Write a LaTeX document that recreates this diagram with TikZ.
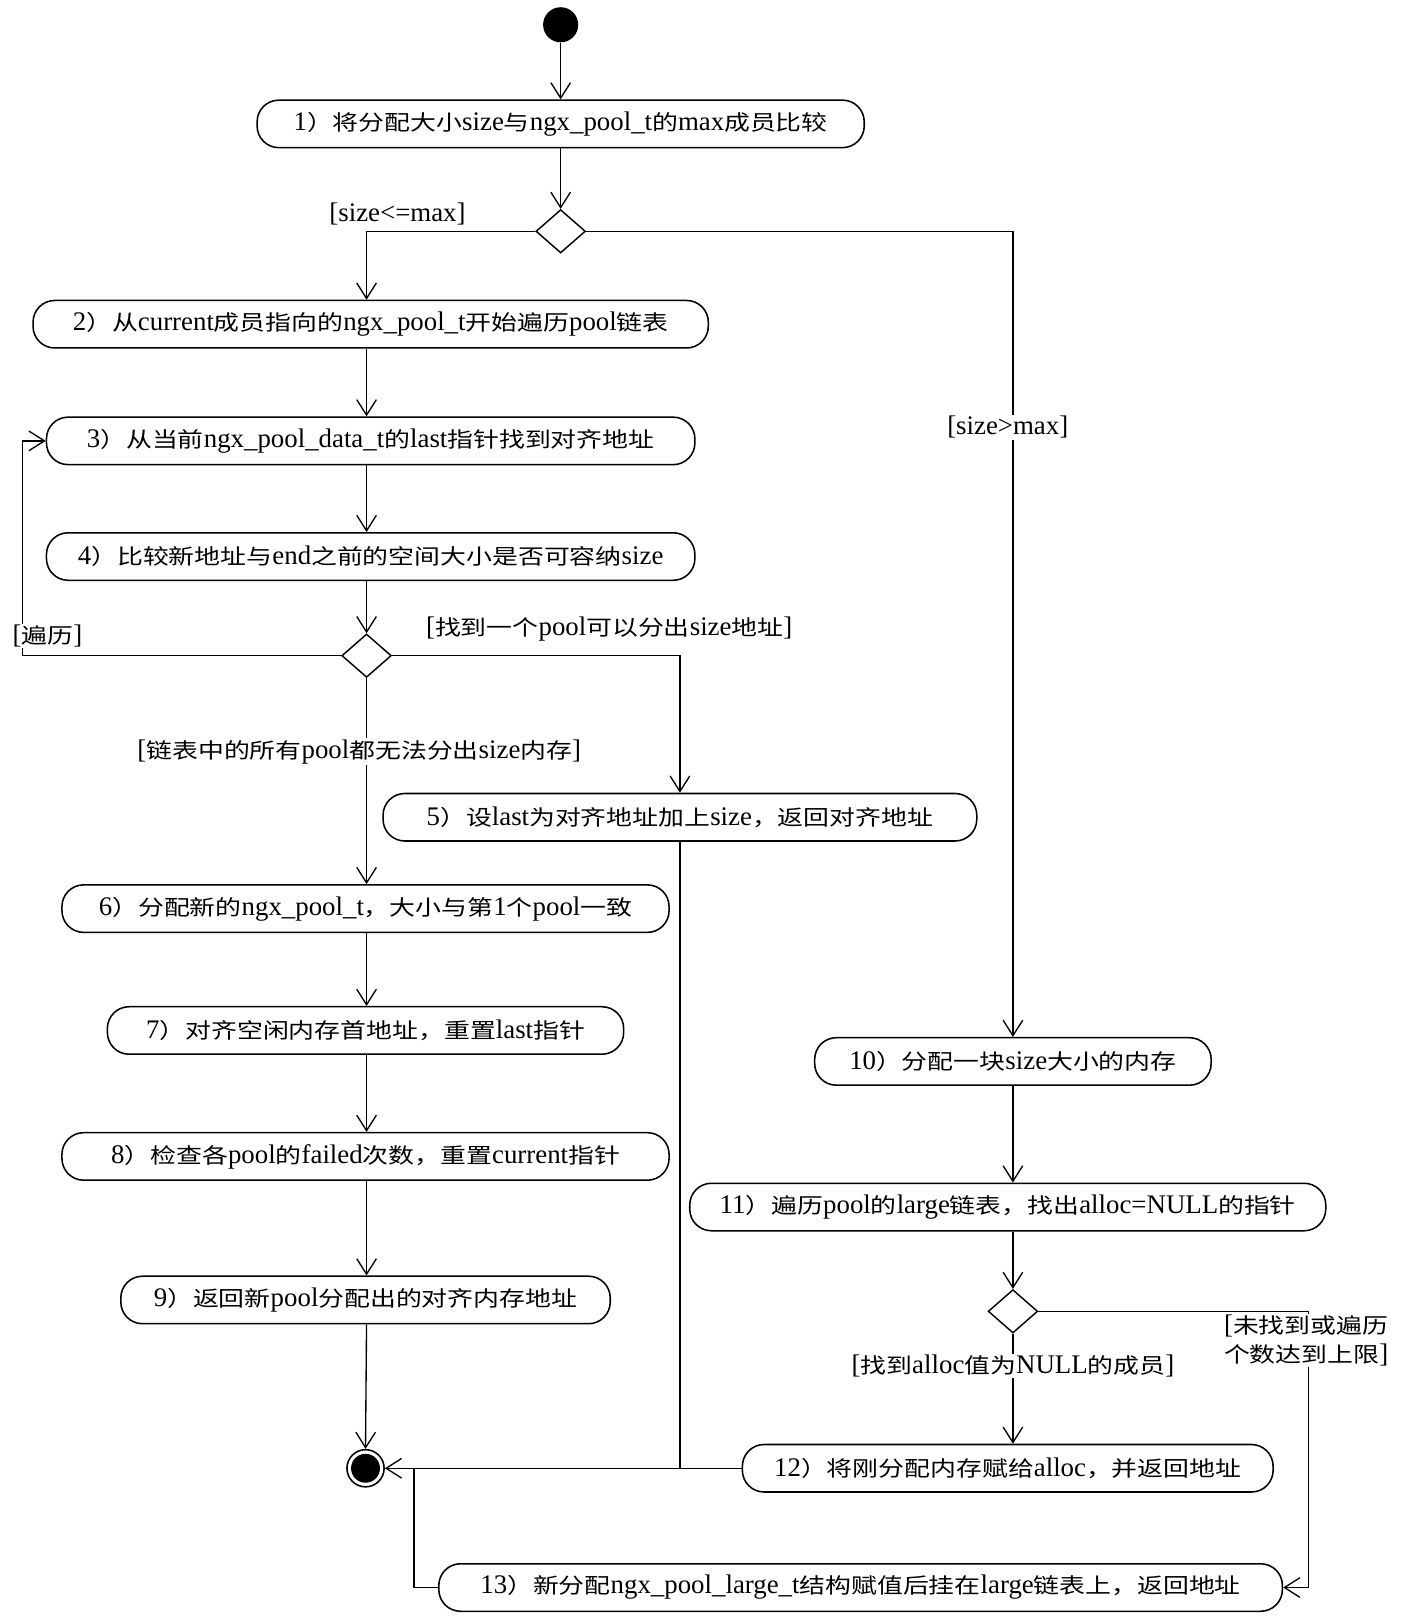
\documentclass[tikz,border=0pt]{standalone}
\usepackage{fontspec}
\setmainfont{Liberation Serif}
\newfontfamily\cjkf[Scale=0.79,FakeStretch=1.22]{Noto Sans CJK SC}
\usetikzlibrary{arrows.meta,shapes.geometric}
\XeTeXinterchartokenstate=1
\newXeTeXintercharclass\mycjkclass
\newcount\mycc
\mycc="4E00
\loop \XeTeXcharclass\mycc=\mycjkclass \advance\mycc by 1 \ifnum\mycc<"A000 \repeat
\mycc="FF00
\loop \XeTeXcharclass\mycc=\mycjkclass \advance\mycc by 1 \ifnum\mycc<"FF60 \repeat
\mycc="3000
\loop \XeTeXcharclass\mycc=\mycjkclass \advance\mycc by 1 \ifnum\mycc<"3040 \repeat
\XeTeXinterchartoks 0 \mycjkclass = {\cjkf}
\XeTeXinterchartoks \mycjkclass 0 = {\rmfamily}
\tikzset{
  act/.style={draw, line width=1.5pt, rounded corners=21pt, minimum height=46pt,
    inner sep=0pt, font=\fontsize{26}{30}\selectfont},
  dec/.style={draw, diamond, line width=1.4pt, minimum width=48pt, minimum height=42pt, inner sep=0pt},
  lbl/.style={font=\fontsize{26}{28}\selectfont, inner sep=1pt},
  wlbl/.style={lbl, fill=white},
  conn/.style={line width=1.3pt},
  arr/.style={conn, -{Straight Barb[length=15pt,width=19pt,line width=1.3pt]}},
}
\begin{document}
\begin{tikzpicture}[x=1pt,y=-1pt]
\useasboundingbox (0,0) rectangle (1370,1568);
% start / end
\node[circle, fill=black, minimum size=34pt, inner sep=0pt] (start) at (543,24) {};
\node[circle, draw, line width=1.5pt, minimum size=36pt, inner sep=0pt] (end) at (354,1422) {};
\fill (end.center) circle (14pt);
% activities
\node[act, minimum width=588pt] (n1) at (543,120) {1）将分配大小size与ngx\_pool\_t的max成员比较};
\node[dec] (d1) at (543,224) {};
\node[act, minimum width=654pt] (n2) at (359,314) {2）从current成员指向的ngx\_pool\_t开始遍历pool链表};
\node[act, minimum width=628pt] (n3) at (359,427) {3）从当前ngx\_pool\_data\_t的last指针找到对齐地址};
\node[act, minimum width=628pt] (n4) at (359,539) {4）比较新地址与end之前的空间大小是否可容纳size};
\node[dec] (d2) at (355,635) {};
\node[act, minimum width=575pt] (n5) at (658.5,791.5) {5）设last为对齐地址加上size，返回对齐地址};
\node[act, minimum width=588pt] (n6) at (354,880) {6）分配新的ngx\_pool\_t，大小与第1个pool一致};
\node[act, minimum width=500pt] (n7) at (354,998) {7）对齐空闲内存首地址，重置last指针};
\node[act, minimum width=588pt] (n8) at (354,1120) {8）检查各pool的failed次数，重置current指针};
\node[act, minimum width=474pt] (n9) at (354,1259) {9）返回新pool分配出的对齐内存地址};
\node[act, minimum width=384pt] (n10) at (981,1028) {10）分配一块size大小的内存};
\node[act, minimum width=616pt] (n11) at (976,1169) {11）遍历pool的large链表，找出alloc=NULL的指针};
\node[dec] (d3) at (981,1270) {};
\node[act, minimum width=514pt] (n12) at (976,1422) {12）将刚分配内存赋给alloc，并返回地址};
\node[act, minimum width=817pt] (n13) at (833.5,1537.5) {13）新分配ngx\_pool\_large\_t结构赋值后挂在large链表上，返回地址};
% helper coordinates
\coordinate (loopL) at (22,635);
\coordinate (rc) at (1267,1270);
\coordinate (j13) at (401,1422);
% connectors
\draw[arr] (start) -- (n1);
\draw[arr] (n1) -- (d1);
\draw[arr] (d1.west) -| (n2.north -| d2);
\draw[arr] (d1.east) -| (n10.north);
\draw[arr] (n2.south -| d2) -- (n3.north -| d2);
\draw[arr] (n3.south -| d2) -- (n4.north -| d2);
\draw[arr] (n4.south -| d2) -- (d2.north);
\draw[arr] (d2.west) -- (loopL) |- (n3.west);
\draw[arr] (d2.east) -| (n5.north);
\draw[arr] (d2.south) -- (n6.north -| d2);
\draw[arr] (n6.south -| d2) -- (n7.north -| d2);
\draw[arr] (n7.south -| d2) -- (n8.north -| d2);
\draw[arr] (n8.south -| d2) -- (n9.north -| d2);
\draw[arr] (n9.south -| d2) -- (end.north);
\draw[conn] (n5.south) -- (n5.south |- end.east);
\draw[arr] (n12.west) -- (end.east);
\draw[arr] (n10.south) -- (n11.north -| n10);
\draw[arr] (n11.south -| d3) -- (d3.north);
\draw[arr] (d3.south) -- (n12.north -| d3);
\draw[arr] (d3.east) -- (rc) |- (n13.east);
\draw[conn] (n13.west) -| (j13);
% guard labels
\node[lbl] (g1) at (385,207) {[size<=max]};
\node[wlbl] (g2) at (976,414) {[size>max]};
\node[wlbl] (g3) at (46,616) {[遍历]};
\node[lbl] (g4) at (590,609) {[找到一个pool可以分出size地址]};
\node[wlbl] (g5) at (348,728) {[链表中的所有pool都无法分出size内存]};
\node[wlbl] (g6) at (981,1323) {[找到alloc值为NULL的成员]};
\node[wlbl, align=left] (g7) at (1265,1298) {[未找到或遍历\\\cjkf 个数达到上限\rmfamily ]};
\end{tikzpicture}
\end{document}
